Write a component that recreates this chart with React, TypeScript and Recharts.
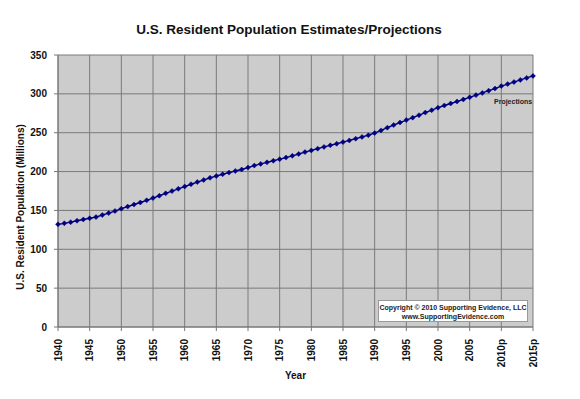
import React from 'react';
import { LineChart, Line, XAxis, YAxis, CartesianGrid, Label } from 'recharts';

const YEARS: number[] = [
    1940, 1941, 1942, 1943, 1944, 1945, 1946, 1947, 1948, 1949,
    1950, 1951, 1952, 1953, 1954, 1955, 1956, 1957, 1958, 1959,
    1960, 1961, 1962, 1963, 1964, 1965, 1966, 1967, 1968, 1969,
    1970, 1971, 1972, 1973, 1974, 1975, 1976, 1977, 1978, 1979,
    1980, 1981, 1982, 1983, 1984, 1985, 1986, 1987, 1988, 1989,
    1990, 1991, 1992, 1993, 1994, 1995, 1996, 1997, 1998, 1999,
    2000, 2001, 2002, 2003, 2004, 2005, 2006, 2007, 2008, 2009,
    2010, 2011, 2012, 2013, 2014, 2015,
];

// millions, July 1 estimates; 2010 on are projections
const POPULATION: number[] = [
    132.1, 133.4, 134.9, 136.7, 138.4, 139.9, 141.4, 144.1, 146.6, 149.2,
    152.3, 154.9, 157.6, 160.2, 163.0, 165.9, 168.9, 172.0, 174.9, 177.8,
    180.7, 183.7, 186.5, 189.2, 191.9, 194.3, 196.6, 198.7, 200.7, 202.7,
    205.1, 207.7, 209.9, 211.9, 213.9, 216.0, 218.0, 220.2, 222.6, 225.1,
    227.2, 229.5, 231.7, 233.8, 235.8, 237.9, 240.1, 242.3, 244.5, 246.8,
    249.6, 253.0, 256.5, 259.9, 263.1, 266.3, 269.4, 272.6, 275.9, 279.0,
    282.2, 285.0, 287.6, 290.1, 292.8, 295.5, 298.4, 301.2, 304.1, 306.8,
    310.0, 312.6, 315.2, 317.9, 320.5, 323.1,
];

const X_TICKS: number[] = [1940, 1945, 1950, 1955, 1960, 1965, 1970, 1975, 1980, 1985, 1990, 1995, 2000, 2005, 2010, 2015];
const Y_TICKS: number[] = [0, 50, 100, 150, 200, 250, 300, 350];
const FIRST_PROJECTION = 2010;

const FONT = 'Arial, "Liberation Sans", sans-serif';
const NAVY = '#000080';

const data = YEARS.map((year, i) => ({ year, pop: POPULATION[i] }));

const yearLabel = (y: number) => (y >= FIRST_PROJECTION ? `${y}p` : `${y}`);

const XTick = (props: any) => {
    const { x, y, payload } = props;
    return (
        <text
            transform={`translate(${x},${y + 6}) rotate(-90)`}
            textAnchor="end"
            dominantBaseline="central"
            fontFamily={FONT}
            fontWeight="bold"
            fontSize={10}
            fill="#111"
        >
            {yearLabel(payload.value)}
        </text>
    );
};

const YTick = (props: any) => {
    const { x, y, payload } = props;
    return (
        <text x={x - 5} y={y} textAnchor="end" dominantBaseline="central" fontFamily={FONT} fontWeight="bold" fontSize={10} fill="#111">
            {payload.value}
        </text>
    );
};

const Diamond = (props: any) => {
    const { cx, cy } = props;
    if (cx == null || cy == null) return null;
    const r = 2.5;
    return (
        <path
            d={`M${cx},${cy - r}L${cx + r},${cy}L${cx},${cy + r}L${cx - r},${cy}Z`}
            fill={NAVY}
            stroke={NAVY}
            strokeWidth={0.5}
        />
    );
};

const App: React.FC = () => {
    return (
        <div style={{ position: 'absolute', left: 0, top: 0, width: 580, height: 399, background: '#fff', fontFamily: FONT }}>
            <div
                style={{
                    position: 'absolute', left: 0, top: 22, width: 578, textAlign: 'center',
                    fontSize: 13.5, fontWeight: 'bold', color: '#111',
                }}
            >
                U.S. Resident Population Estimates/Projections
            </div>
            <LineChart width={580} height={399} data={data} margin={{ top: 55, right: 47, bottom: 0, left: 0 }}>
                <CartesianGrid fill="#cccccc" stroke="#7a7a7a" strokeWidth={1} horizontalValues={Y_TICKS} verticalValues={X_TICKS} />
                <XAxis
                    dataKey="year"
                    type="number"
                    domain={[1940, 2015]}
                    ticks={X_TICKS}
                    interval={0}
                    height={72}
                    tick={<XTick />}
                    tickSize={4}
                    stroke="#777"
                >
                    <Label value="Year" position="insideBottom" offset={20} style={{ fontFamily: FONT, fontWeight: 'bold', fontSize: 10, fill: '#111' }} />
                </XAxis>
                <YAxis
                    type="number"
                    domain={[0, 350]}
                    ticks={Y_TICKS}
                    interval={0}
                    width={58}
                    tickSize={4}
                    stroke="#777"
                    tick={<YTick />}
                />
                <Line
                    type="linear"
                    dataKey="pop"
                    stroke={NAVY}
                    strokeWidth={1.4}
                    dot={<Diamond />}
                    activeDot={false}
                    isAnimationActive={false}
                />
            </LineChart>
            <svg width={40} height={399} style={{ position: 'absolute', left: 0, top: 0 }}>
                <text
                    transform="translate(20,207) rotate(-90)"
                    textAnchor="middle"
                    dominantBaseline="central"
                    fontFamily={FONT}
                    fontWeight="bold"
                    fontSize={10}
                    fill="#111"
                >
                    U.S. Resident Population (Millions)
                </text>
            </svg>
            <div
                style={{
                    position: 'absolute', left: 494, top: 98, fontSize: 7, fontWeight: 'bold', color: '#222',
                }}
            >
                Projections
            </div>
            <div
                style={{
                    position: 'absolute', left: 378, top: 300, width: 150, height: 22, boxSizing: 'border-box',
                    background: '#fff', border: '1px solid #999', textAlign: 'center',
                    fontSize: 7, fontWeight: 'bold', color: '#222', lineHeight: '9px', paddingTop: 2,
                }}
            >
                Copyright © 2010 Supporting Evidence, LLC<br />www.SupportingEvidence.com
            </div>
        </div>
    );
};

export default App;
